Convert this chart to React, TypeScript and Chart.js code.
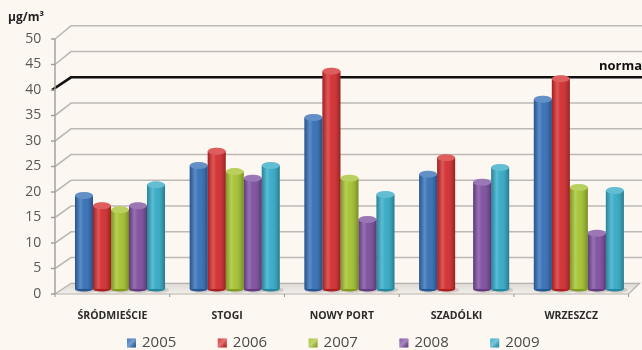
import React, { useEffect, useRef } from 'react';
import { Chart, registerables } from 'chart.js';

Chart.register(...registerables);

const categories = ['ŚRÓDMIEŚCIE', 'STOGI', 'NOWY PORT', 'SZADÓLKI', 'WRZESZCZ'];
const years = ['2005', '2006', '2007', '2008', '2009'];
const values2005 = [19.3, 25.2, 34.6, 23.5, 38.2];
const values2006 = [17.3, 28.0, 43.7, 26.7, 42.2];
const values2007 = [16.5, 24.0, 22.7, null, 20.9];
const values2008 = [17.3, 22.7, 14.6, 21.9, 11.9];
const values2009 = [21.4, 25.2, 19.5, 24.8, 20.3];
const yTicks = [0, 5, 10, 15, 20, 25, 30, 35, 40, 45, 50];
const normValue = 40;
const normLabel = 'norma';
const unitLabel = 'µg/m³';

const colors = ['#2f6cb5', '#d3282a', '#a2c12a', '#7a4a9d', '#2fa8c5'];
const seriesValues = [values2005, values2006, values2007, values2008, values2009];
const BG = '#fcf7f0';
const FRONT_X = 55;
const BACK_X = 71;
const LABEL_SHIFT = -7.6;

function backY(scaleY: any, v: number) {
  const front = scaleY.getPixelForValue(v);
  const bottom = scaleY.getPixelForValue(0);
  return bottom - 10.7 - (bottom - front) * (5.15 / 5.1);
}

const decorPlugin = {
  id: 'decor',
  beforeDraw(chart: any) {
    const { ctx, width, height } = chart;
    ctx.save();
    ctx.fillStyle = BG;
    ctx.fillRect(0, 0, width, height);
    ctx.restore();
  },
  beforeDatasetsDraw(chart: any) {
    const { ctx, width } = chart;
    const y = chart.scales.y;
    const x = chart.scales.x;
    ctx.save();
    // floor
    const f0 = y.getPixelForValue(0);
    const b0 = backY(y, 0);
    const n = categories.length;
    const step = x.getPixelForTick(1) - x.getPixelForTick(0);
    const frontLeft = x.getPixelForTick(0) - step / 2 + LABEL_SHIFT;
    const frontRight = x.getPixelForTick(n - 1) + step / 2 + LABEL_SHIFT;
    const grad = ctx.createLinearGradient(0, b0, 0, f0);
    grad.addColorStop(0, '#dcd8d3');
    grad.addColorStop(1, '#f3efea');
    ctx.fillStyle = grad;
    ctx.beginPath();
    ctx.moveTo(FRONT_X, f0);
    ctx.lineTo(frontRight, f0);
    ctx.lineTo(frontRight + 11, b0);
    ctx.lineTo(BACK_X, b0);
    ctx.closePath();
    ctx.fill();
    ctx.strokeStyle = '#b5b1ac';
    ctx.lineWidth = 1.2;
    ctx.stroke();
    // floor ticks
    ctx.strokeStyle = '#9a9692';
    ctx.lineWidth = 1;
    for (let i = 0; i <= n; i++) {
      const px = frontLeft + i * step;
      ctx.beginPath();
      ctx.moveTo(px, f0);
      ctx.lineTo(px, f0 + 3);
      ctx.stroke();
    }
    // gridlines
    yTicks.forEach((v) => {
      if (v === 0) return;
      const fy = y.getPixelForValue(v);
      const by = backY(y, v);
      const isNorm = v === normValue;
      ctx.strokeStyle = isNorm ? '#111111' : '#bcb9b5';
      ctx.lineWidth = isNorm ? 2.6 : 1.6;
      ctx.beginPath();
      ctx.moveTo(isNorm ? FRONT_X - 3 : FRONT_X, fy);
      ctx.lineTo(BACK_X, by);
      ctx.lineTo(width, by);
      ctx.stroke();
    });
    // front axis
    ctx.strokeStyle = '#a09c98';
    ctx.lineWidth = 1.4;
    ctx.beginPath();
    ctx.moveTo(FRONT_X, y.getPixelForValue(50));
    ctx.lineTo(FRONT_X, f0);
    ctx.stroke();
    yTicks.forEach((v) => {
      const fy = y.getPixelForValue(v);
      ctx.beginPath();
      ctx.moveTo(FRONT_X - 4, fy);
      ctx.lineTo(FRONT_X, fy);
      ctx.stroke();
    });
    // bar shadows on floor
    chart.data.datasets.forEach((ds: any, di: number) => {
      const meta = chart.getDatasetMeta(di);
      meta.data.forEach((bar: any, i: number) => {
        if (ds.data[i] == null) return;
        const { x: bx, base, width: bw } = bar.getProps(['x', 'base', 'width'], true);
        ctx.beginPath();
        ctx.ellipse(bx + 2, base + 1, bw / 2 + 2, 3, 0, 0, Math.PI * 2);
        ctx.fillStyle = 'rgba(90,80,70,0.18)';
        ctx.fill();
      });
    });
    ctx.restore();
  },
  afterDatasetsDraw(chart: any) {
    const { ctx } = chart;
    ctx.save();
    chart.data.datasets.forEach((ds: any, di: number) => {
      const meta = chart.getDatasetMeta(di);
      meta.data.forEach((bar: any, i: number) => {
        if (ds.data[i] == null) return;
        const { x, y, base, width } = bar.getProps(['x', 'y', 'base', 'width'], true);
        const left = x - width / 2;
        const g = ctx.createLinearGradient(left, 0, left + width, 0);
        g.addColorStop(0, 'rgba(0,0,0,0.22)');
        g.addColorStop(0.3, 'rgba(255,255,255,0.22)');
        g.addColorStop(0.5, 'rgba(255,255,255,0.06)');
        g.addColorStop(1, 'rgba(0,0,0,0.28)');
        ctx.fillStyle = g;
        ctx.fillRect(left, y, width, base - y);
        // cap
        ctx.beginPath();
        ctx.ellipse(x, y, width / 2, 3.5, 0, 0, Math.PI * 2);
        ctx.fillStyle = ds.backgroundColor;
        ctx.fill();
        ctx.fillStyle = 'rgba(255,255,255,0.25)';
        ctx.fill();
        // bottom curve
        ctx.beginPath();
        ctx.ellipse(x, base, width / 2, 2.5, 0, 0, Math.PI);
        ctx.fillStyle = ds.backgroundColor;
        ctx.fill();
        ctx.fillStyle = 'rgba(0,0,0,0.2)';
        ctx.fill();
      });
    });
    ctx.restore();
  },
  afterDraw(chart: any) {
    const { ctx } = chart;
    const y = chart.scales.y;
    ctx.save();
    // norma label
    ctx.fillStyle = '#111111';
    ctx.font = 'bold 13px "Open Sans"';
    ctx.textAlign = 'left';
    ctx.textBaseline = 'alphabetic';
    ctx.fillText(normLabel, 599, backY(y, normValue) - 7.5);
    // unit
    ctx.fillStyle = '#222222';
    ctx.font = 'bold 12px "Open Sans"';
    ctx.fillText(unitLabel, 8, 21);
    // legend
    ctx.font = '15px "Open Sans"';
    ctx.textBaseline = 'middle';
    chart.data.datasets.forEach((ds: any, di: number) => {
      const lx = 127 + di * 90.8;
      const ly = 343;
      ctx.fillStyle = ds.backgroundColor;
      ctx.fillRect(lx, ly - 4.5, 9, 9);
      const g = ctx.createLinearGradient(lx, ly - 4.5, lx + 9, ly + 4.5);
      g.addColorStop(0, 'rgba(255,255,255,0.1)');
      g.addColorStop(0.5, 'rgba(255,255,255,0.35)');
      g.addColorStop(1, 'rgba(0,0,0,0.15)');
      ctx.fillStyle = g;
      ctx.fillRect(lx, ly - 4.5, 9, 9);
      ctx.fillStyle = '#4a4a4a';
      ctx.fillText(ds.label, lx + 15, ly);
    });
    ctx.restore();
  },
};

export default function App() {
  const ref = useRef<HTMLCanvasElement | null>(null);
  useEffect(() => {
    document.body.style.margin = '0';
    const canvas = ref.current;
    if (!canvas) return;
    const chart = new Chart(canvas, {
      type: 'bar',
      data: {
        labels: categories,
        datasets: years.map((yr, i) => ({
          label: yr,
          data: seriesValues[i],
          backgroundColor: colors[i],
          borderWidth: 0,
          base: 1,
          barPercentage: 1,
          categoryPercentage: 0.785,
        })),
      },
      options: {
        animation: false,
        responsive: true,
        maintainAspectRatio: false,
        layout: { padding: { top: 39, left: 0, right: 5.8, bottom: 0 } },
        plugins: {
          legend: { display: false },
          tooltip: { enabled: false },
        },
        scales: {
          x: {
            grid: { display: false, drawTicks: false },
            border: { display: false },
            ticks: {
              labelOffset: LABEL_SHIFT,
              padding: 16,
              color: '#2b2b2b',
              font: { family: '"Open Sans"', size: 10.5, weight: 'bold' },
              maxRotation: 0,
              autoSkip: false,
            },
            afterFit(scale: any) {
              scale.height = 56;
            },
          },
          y: {
            min: 0,
            max: 50,
            grid: { display: false, drawTicks: false },
            border: { display: false },
            afterBuildTicks(scale: any) {
              scale.ticks = yTicks.map((v) => ({ value: v }));
            },
            ticks: {
              padding: 21.3,
              color: '#585858',
              font: { family: '"Open Sans"', size: 14 },
            },
            afterFit(scale: any) {
              scale.width = 62.65;
            },
          },
        },
      },
      plugins: [decorPlugin],
    });
    return () => chart.destroy();
  }, []);
  return (
    <div style={{ width: 642, height: 350, position: 'relative' }}>
      <canvas ref={ref} />
    </div>
  );
}
